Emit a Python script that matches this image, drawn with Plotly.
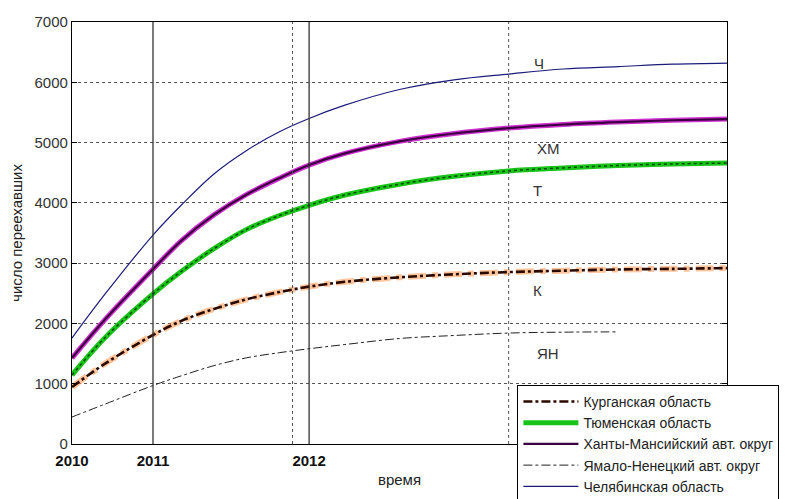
import plotly.graph_objects as go

# time axis (arbitrary units spanning the plot), year marks
t = [0, 1.5, 3.71, 5, 6.5, 8, 9.5, 10.86, 12.5, 15, 17.5, 20, 22.5, 25, 27.5, 30]
year_pos = [0, 3.71, 10.86]
year_labels = ["2010", "2011", "2012"]

kurgan = [945, 1330, 1808, 2040, 2240, 2400, 2520, 2610, 2690, 2765, 2815, 2852, 2875, 2895, 2905, 2918]
tyumen = [1144, 1760, 2490, 2860, 3240, 3560, 3790, 3960, 4130, 4310, 4440, 4530, 4580, 4620, 4645, 4660]
khmao = [1426, 2060, 2900, 3370, 3800, 4140, 4410, 4627, 4820, 5020, 5150, 5240, 5300, 5340, 5370, 5390]
yanao = [448, 660, 970, 1130, 1300, 1430, 1515, 1580, 1650, 1750, 1800, 1840, 1855, 1860, None, None]
chel = [1758, 2480, 3466, 3960, 4480, 4870, 5180, 5400, 5620, 5880, 6040, 6136, 6220, 6260, 6300, 6318]

names = ["Курганская область", "Тюменская область", "Ханты-Мансийский авт. округ",
         "Ямало-Ненецкий авт. округ", "Челябинская область"]
curve_labels = ["Ч", "ХМ", "Т", "К", "ЯН"]
label_t = [21.07, 21.2, 21.0, 21.0, 21.2]
label_v = [6318, 4909, 4212, 2554, 1509]

FONT = "Liberation Sans"

fig = go.Figure()

# Kurgan: orange halo + dark dash-dot core
fig.add_trace(go.Scatter(x=t, y=kurgan, mode="lines", line=dict(color="rgba(255,140,60,0.5)", width=6, dash="dashdot", shape="spline"),
                         legendgroup="k", showlegend=False, hoverinfo="skip"))
fig.add_trace(go.Scatter(x=t, y=kurgan, mode="lines", name=names[0], legendgroup="k",
                         line=dict(color="#2a0a00", width=2.6, dash="dashdot", shape="spline")))
# Tyumen: green thick with dark texture
fig.add_trace(go.Scatter(x=t, y=tyumen, mode="lines", name=names[1], legendgroup="t",
                         line=dict(color="#19c419", width=5, shape="spline")))
fig.add_trace(go.Scatter(x=t, y=tyumen, mode="lines", legendgroup="t", showlegend=False, hoverinfo="skip",
                         line=dict(color="#0b4a0b", width=1.5, dash="dot", shape="spline")))
# KhMAO: magenta halo with dark core
fig.add_trace(go.Scatter(x=t, y=khmao, mode="lines", legendgroup="h", showlegend=False, hoverinfo="skip",
                         line=dict(color="#d030d0", width=5, shape="spline")))
fig.add_trace(go.Scatter(x=t, y=khmao, mode="lines", name=names[2], legendgroup="h",
                         line=dict(color="#3a0040", width=2.2, shape="spline")))
# YaNAO
fig.add_trace(go.Scatter(x=t, y=yanao, mode="lines", name=names[3],
                         line=dict(color="#222222", width=1, dash="dashdot", shape="spline")))
# Chelyabinsk
fig.add_trace(go.Scatter(x=t, y=chel, mode="lines", name=names[4],
                         line=dict(color="#1c1c7a", width=1.2, shape="spline")))

shapes = []
for xv in year_pos[1:]:
    shapes.append(dict(type="line", xref="x", yref="paper", x0=xv, x1=xv, y0=0, y1=1,
                       line=dict(color="#333333", width=1.3)))
for xv in [10.1, 20]:
    shapes.append(dict(type="line", xref="x", yref="paper", x0=xv, x1=xv, y0=0, y1=1,
                       line=dict(color="#555555", width=1, dash="dot")))

annotations = []
for lab, xv, yv in zip(curve_labels, label_t, label_v):
    annotations.append(dict(x=xv, y=yv, xref="x", yref="y", text=lab, showarrow=False,
                            xanchor="left", font=dict(size=15, color="#333333", family=FONT)))

fig.update_layout(
    width=801, height=499,
    margin=dict(l=64, r=82, t=14, b=63, autoexpand=False),
    paper_bgcolor="white", plot_bgcolor="white",
    font=dict(family=FONT, size=15, color="#222222"),
    shapes=shapes, annotations=annotations,
    showlegend=True,
    legend=dict(x=0.68, y=0.14, xanchor="left", yanchor="top", bgcolor="white",
                bordercolor="black", borderwidth=1, font=dict(size=14, color="#222222", family=FONT),
                tracegroupgap=0, itemwidth=55),
)
fig.update_xaxes(range=[0, 30], tickvals=year_pos, ticktext=year_labels, showgrid=False, zeroline=False,
                 showline=True, linecolor="black", linewidth=1.3, mirror=True, ticks="",
                 ticklabelstandoff=3, automargin=False,
                 tickfont=dict(size=15, weight="bold", color="#111111", family=FONT),
                 title=dict(text="время", font=dict(size=15), standoff=6))
fig.update_yaxes(range=[0, 7000], tickvals=[0, 1000, 2000, 3000, 4000, 5000, 6000, 7000],
                 showgrid=True, gridcolor="#555555", griddash="dot", gridwidth=1, zeroline=False,
                 showline=True, linecolor="black", linewidth=1.3, mirror="ticks", ticks="inside", ticklen=5,
                 tickcolor="black", tickfont=dict(size=15, color="#333333", family=FONT), automargin=False,
                 title=dict(text="число переехавших", font=dict(size=15), standoff=10))

fig.write_html("out.html")
